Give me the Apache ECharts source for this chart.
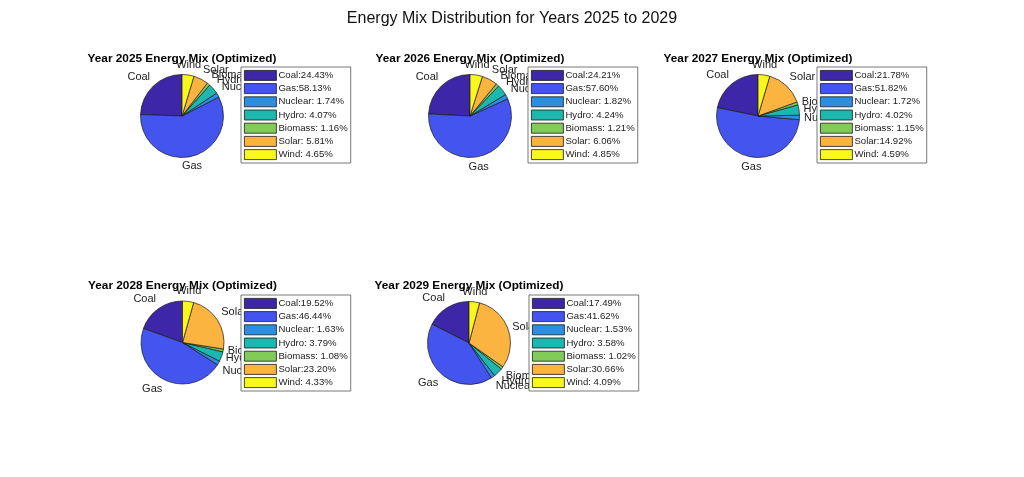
<!DOCTYPE html>
<html><head><meta charset="utf-8">
<script src="https://cdn.jsdelivr.net/npm/echarts@6/dist/echarts.min.js"></script>
<style>html,body{margin:0;padding:0;background:#fff}#c{width:1024px;height:477px}</style>
</head><body><div id="c"></div>
<script>
const categories = ['Coal', 'Gas', 'Nuclear', 'Hydro', 'Biomass', 'Solar', 'Wind'];
const years = [2025, 2026, 2027, 2028, 2029];
const mix2025 = [24.43, 58.13, 1.74, 4.07, 1.16, 5.81, 4.65];
const mix2026 = [24.21, 57.60, 1.82, 4.24, 1.21, 6.06, 4.85];
const mix2027 = [21.78, 51.82, 1.72, 4.02, 1.15, 14.92, 4.59];
const mix2028 = [19.52, 46.44, 1.63, 3.79, 1.08, 23.20, 4.33];
const mix2029 = [17.49, 41.62, 1.53, 3.58, 1.02, 30.66, 4.09];
const mixes = [mix2025, mix2026, mix2027, mix2028, mix2029];

const colors = ['#3e26a8', '#4455ef', '#2c8ee0', '#1cb8b0', '#81cc59', '#fbb440', '#f9f71c'];
const FONT = '"Liberation Sans", Arial, Helvetica, sans-serif';
// panel layout (pie centre, legend top-left, title y)
const panels = [
  { cx: 182, cy: 116, lx: 241, ly: 67, ty: 59 },
  { cx: 470, cy: 116, lx: 528, ly: 67, ty: 59 },
  { cx: 758, cy: 116, lx: 817, ly: 67, ty: 59 },
  { cx: 182.5, cy: 342.5, lx: 241, ly: 295, ty: 286 },
  { cx: 469, cy: 343, lx: 529, ly: 295, ty: 286 }
];

function fmt(v) { return v.toFixed(2).padStart(5, ' '); }

const chart = echarts.init(document.getElementById('c'));
const series = [], legends = [], graphics = [];
years.forEach((yr, i) => {
  const vals = mixes[i];
  const p = panels[i];
  series.push({
    type: 'pie',
    center: [p.cx, p.cy],
    radius: 41.5,
    startAngle: 90,
    clockwise: false,
    avoidLabelOverlap: false,
    animation: false,
    silent: true,
    data: categories.map((c, k) => ({ name: c, value: vals[k], itemStyle: { color: colors[k] } })),
    itemStyle: { borderColor: '#1a1a1a', borderWidth: 0.7 },
    label: { show: true, position: 'outside', formatter: '{b}', fontSize: 11, color: '#222', fontFamily: FONT, distanceToLabelLine: 0 },
    labelLine: { show: false, length: 4.5, length2: 0 },
    emphasis: { disabled: true },
    labelLayout: function (q) {
      const v = mixes[q.seriesIndex];
      const total = v.reduce((a, b) => a + b, 0);
      let before = 0;
      for (let k = 0; k < q.dataIndex; k++) before += v[k];
      const mid = (90 + 360 * (before + v[q.dataIndex] / 2) / total) * Math.PI / 180;
      const c = Math.cos(mid), s = Math.sin(mid);
      return {
        align: Math.abs(c) < 0.3 ? 'center' : (c > 0 ? 'left' : 'right'),
        verticalAlign: Math.abs(s) < 0.4 ? 'middle' : (s > 0 ? 'bottom' : 'top')
      };
    }
  });
  legends.push({
    orient: 'vertical',
    left: p.lx,
    top: p.ly,
    z: 10,
    selectedMode: false,
    data: categories,
    icon: 'rect',
    itemWidth: 32,
    itemHeight: 10,
    itemGap: 2.4,
    padding: [3, 3, 3, 3],
    backgroundColor: '#fff',
    borderColor: '#555',
    borderWidth: 0.8,
    borderRadius: 0,
    itemStyle: { borderColor: '#1a1a1a', borderWidth: 0.8 },
    textStyle: { fontSize: 9.6, lineHeight: 10, color: '#222', fontFamily: FONT, padding: [0, 0, 0, -3] },
    formatter: function (name) {
      const k = categories.indexOf(name);
      return name + ':' + fmt(vals[k]) + '%';
    }
  });
  graphics.push({
    type: 'text',
    x: p.cx,
    y: p.ty,
    z: 20,
    style: { text: 'Year ' + yr + ' Energy Mix (Optimized)', align: 'center', verticalAlign: 'middle', font: 'bold 11.8px ' + FONT, fill: '#000' }
  });
});

chart.setOption({
  backgroundColor: '#fff',
  animation: false,
  title: {
    text: 'Energy Mix Distribution for Years 2025 to 2029',
    left: 'center',
    top: 11,
    padding: 0,
    textStyle: { fontSize: 16, fontWeight: 'normal', color: '#111', fontFamily: FONT }
  },
  legend: legends,
  graphic: graphics,
  series: series
});
</script>
</body></html>
